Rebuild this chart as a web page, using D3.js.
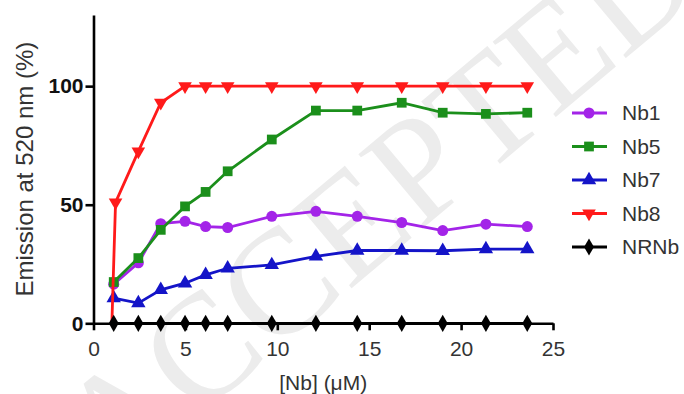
<!DOCTYPE html>
<html>
<head>
<meta charset="utf-8">
<script src="https://d3js.org/d3.v7.min.js"></script>
<style>
  body { margin: 0; background: #fff; }
  svg { display: block; }
  .tick text { font-family: "Liberation Sans", Arial, sans-serif; }
</style>
</head>
<body>
<div id="chart"></div>
<script>
// medidas de la ventana
var WIDTH = 684,
    HEIGHT = 394;

// concentraciones de Nb (uM), compartidas por todas las series
var concNb = [1.1, 2.44, 3.66, 4.98, 6.1, 7.3, 9.7, 12.1, 14.35, 16.77, 19.0, 21.35, 23.6];
// Nb8 arranca desde cero un poco antes
var concNb8 = [1.0, 1.2, 2.44, 3.66, 4.98, 6.1, 7.3, 9.7, 12.1, 14.35, 16.77, 19.0, 21.35, 23.6];

var nb1  = [16.5, 25.5, 42, 43, 40.8, 40.4, 45.1, 47.2, 45.1, 42.5, 39.1, 41.8, 40.8];
var nb5  = [17.4, 27.5, 39.4, 49.3, 55.4, 64.1, 77.5, 89.7, 89.7, 93.0, 88.8, 88.3, 88.8];
var nb7  = [10.6, 8.5, 14.1, 16.9, 20.4, 23.2, 24.6, 28.2, 30.7, 30.7, 30.6, 31.3, 31.3];
var nb8  = [0, 51, 72.5, 93, 100, 100, 100, 100, 100, 100, 100, 100, 100, 100];
var nrnb = [0, 0, 0, 0, 0, 0, 0, 0, 0, 0, 0, 0, 0];

var seriesNames = ['Nb1', 'Nb5', 'Nb7', 'Nb8', 'NRNb'];
var seriesColors = ['#a324e8', '#1b8f1b', '#1414c8', '#ff1a1a', '#000000'];
var seriesSymbols = [d3.symbolCircle, d3.symbolSquare, d3.symbolTriangle, 'down', d3.symbolDiamond];

var xTicks = [0, 5, 10, 15, 20, 25];
var yTicks = [0, 50, 100];

var FONT = '"Liberation Sans", Arial, sans-serif';

var svg = d3.select('#chart').append('svg')
            .attr('width', WIDTH)
            .attr('height', HEIGHT);

// marca de agua de fondo
svg.append('text')
   .attr('transform', 'translate(375,200) rotate(-40)')
   .attr('text-anchor', 'middle')
   .attr('dy', '0.35em')
   .attr('font-family', '"Liberation Serif", "Times New Roman", serif')
   .attr('font-size', 150)
   .attr('fill', '#ececec')
   .text('ACCEPTED');

var x = d3.scaleLinear().domain([0, 25]).range([93.5, 553]);
var y = d3.scaleLinear().domain([0, 130]).range([323.3, 15]);

// eje y
var yAxis = svg.append('g')
   .attr('transform', 'translate(' + x(0) + ',0)')
   .call(d3.axisLeft(y).tickValues(yTicks).tickSize(8).tickSizeOuter(0).tickPadding(2));
yAxis.selectAll('path, line').attr('stroke', '#000').attr('stroke-width', 2.6);
yAxis.selectAll('text')
     .attr('font-size', 21).attr('font-weight', 'bold').attr('fill', '#111')
     .attr('font-family', FONT);

// eje x
var xAxis = svg.append('g')
   .attr('transform', 'translate(0,' + y(0) + ')')
   .call(d3.axisBottom(x).tickValues(xTicks).tickSize(7).tickSizeOuter(0).tickPadding(11));
xAxis.selectAll('path, line').attr('stroke', '#000').attr('stroke-width', 2.6);
xAxis.selectAll('text')
     .attr('font-size', 21).attr('fill', '#333')
     .attr('font-family', FONT);

svg.append('text')
   .attr('x', (x(0) + x(25)) / 2)
   .attr('y', 390)
   .attr('text-anchor', 'middle')
   .attr('font-family', FONT)
   .attr('font-size', 21)
   .attr('fill', '#333')
   .text('[Nb] (\u03bcM)');

svg.append('text')
   .attr('transform', 'translate(33,' + ((y(0) + y(130)) / 2) + ') rotate(-90)')
   .attr('text-anchor', 'middle')
   .attr('font-family', FONT)
   .attr('font-size', 24)
   .attr('fill', '#333')
   .text('Emission at 520 nm (%)');

var allData = [
  concNb.map((c, i) => [c, nb1[i]]),
  concNb.map((c, i) => [c, nb5[i]]),
  concNb.map((c, i) => [c, nb7[i]]),
  concNb8.map((c, i) => [c, nb8[i]]),
  concNb.map((c, i) => [c, nrnb[i]])
];

var line = d3.line()
             .x(d => x(d[0]))
             .y(d => y(d[1]));

function symbolPath(sym, size) {
  if (sym === 'down') {
    return d3.symbol().type(d3.symbolTriangle).size(size)();
  }
  return d3.symbol().type(sym).size(size)();
}

function symbolTransform(sym) {
  return sym === 'down' ? ' rotate(180)' : '';
}

var symbolSizes = [95, 95, 90, 80, 85];

allData.forEach((data, k) => {
  var g = svg.append('g').attr('class', 'serie ' + seriesNames[k]);
  g.append('path')
   .datum(data)
   .attr('fill', 'none')
   .attr('stroke', seriesColors[k])
   .attr('stroke-width', 2.8)
   .attr('d', line);

  // Nb8 no lleva marcador en el primer punto (el cero)
  var pts = k === 3 ? data.slice(1) : data;
  g.selectAll('path.pt')
   .data(pts).enter()
   .append('path')
   .attr('class', 'pt')
   .attr('d', symbolPath(seriesSymbols[k], symbolSizes[k]))
   .attr('transform', d => 'translate(' + x(d[0]) + ',' + y(d[1]) + ')' + symbolTransform(seriesSymbols[k]))
   .attr('fill', seriesColors[k]);
});

// leyenda
var legend = svg.append('g').attr('class', 'legend');
seriesNames.forEach((name, k) => {
  var ly = 113 + k * 33.5;
  legend.append('line')
        .attr('x1', 572).attr('x2', 607)
        .attr('y1', ly).attr('y2', ly)
        .attr('stroke', seriesColors[k])
        .attr('stroke-width', 2.8);
  legend.append('path')
        .attr('d', symbolPath(seriesSymbols[k], symbolSizes[k]))
        .attr('transform', 'translate(589,' + ly + ')' + symbolTransform(seriesSymbols[k]))
        .attr('fill', seriesColors[k]);
  legend.append('text')
        .attr('x', 622)
        .attr('y', ly)
        .attr('dy', '0.35em')
        .attr('font-family', FONT)
        .attr('font-size', 21)
        .attr('fill', '#333')
        .text(name);
});
</script>
</body>
</html>
